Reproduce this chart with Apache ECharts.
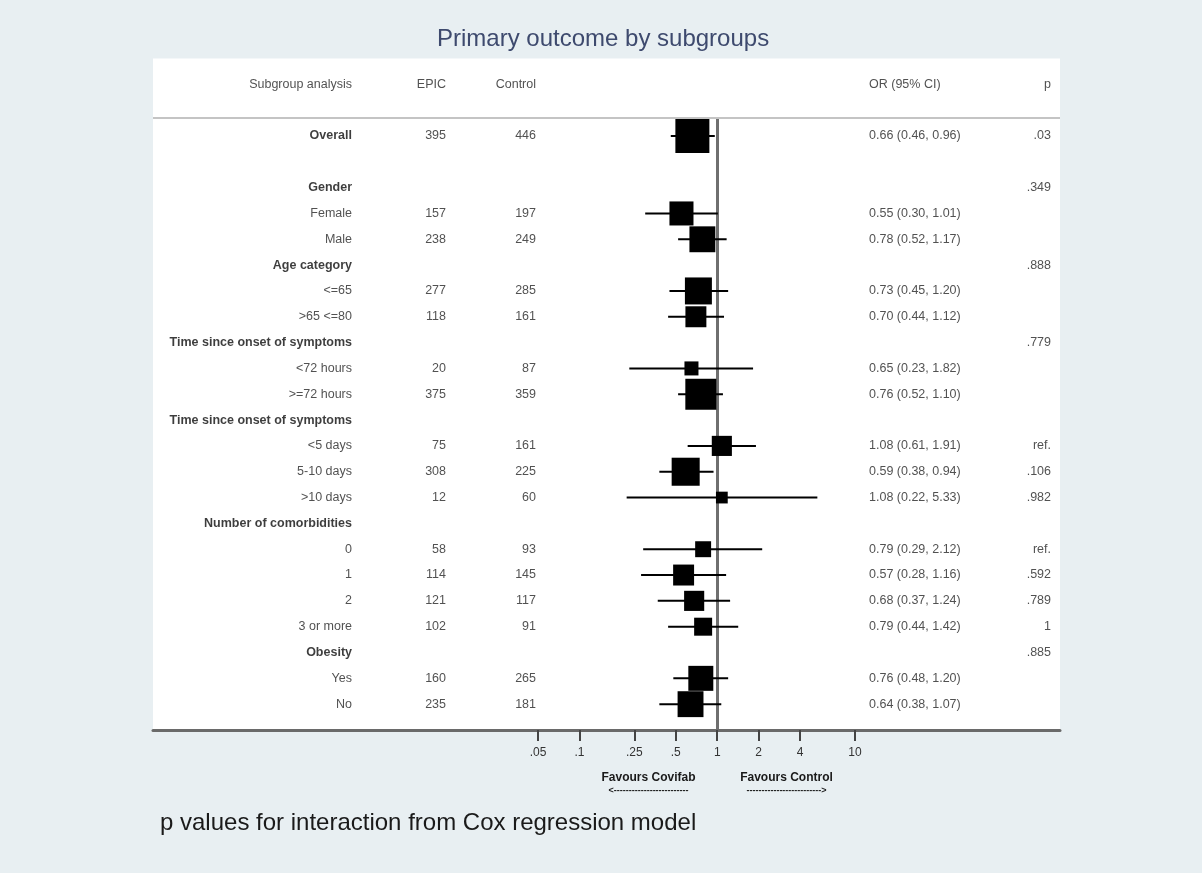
<!DOCTYPE html>
<html>
<head>
<meta charset="utf-8">
<script src="https://cdn.jsdelivr.net/npm/echarts@6/dist/echarts.min.js"></script>
<style>
html,body{margin:0;padding:0;background:#e8eff2;}
#chart{width:1202px;height:873px;}
</style>
</head>
<body>
<div id="chart"></div>
<script>
// ---------------- DATA ----------------
const subgroups = ['Overall', '', 'Gender', 'Female', 'Male', 'Age category', '<=65', '>65 <=80',
  'Time since onset of symptoms', '<72 hours', '>=72 hours', 'Time since onset of symptoms',
  '<5 days', '5-10 days', '>10 days', 'Number of comorbidities', '0', '1', '2', '3 or more',
  'Obesity', 'Yes', 'No'];
const isHeading = [true, false, true, false, false, true, false, false,
  true, false, false, true, false, false, false, true, false, false, false, false,
  true, false, false];
const epicN    = [395, null, null, 157, 238, null, 277, 118, null, 20, 375, null, 75, 308, 12, null, 58, 114, 121, 102, null, 160, 235];
const controlN = [446, null, null, 197, 249, null, 285, 161, null, 87, 359, null, 161, 225, 60, null, 93, 145, 117, 91, null, 265, 181];
const oddsRatio = [0.66, null, null, 0.55, 0.78, null, 0.73, 0.70, null, 0.65, 0.76, null, 1.08, 0.59, 1.08, null, 0.79, 0.57, 0.68, 0.79, null, 0.76, 0.64];
const ciLow     = [0.46, null, null, 0.30, 0.52, null, 0.45, 0.44, null, 0.23, 0.52, null, 0.61, 0.38, 0.22, null, 0.29, 0.28, 0.37, 0.44, null, 0.48, 0.38];
const ciHigh    = [0.96, null, null, 1.01, 1.17, null, 1.20, 1.12, null, 1.82, 1.10, null, 1.91, 0.94, 5.33, null, 2.12, 1.16, 1.24, 1.42, null, 1.20, 1.07];
const weights   = [100, null, null, 50, 58, null, 63, 38, null, 17, 83, null, 35, 68, 12, null, 22, 38, 35, 28, null, 54, 58];
const pValues   = ['.03', '', '.349', '', '', '.888', '', '', '.779', '', '', '', 'ref.', '.106', '.982', '', 'ref.', '.592', '.789', '1', '.885', '', ''];
const columnHeaders = ['Subgroup analysis', 'EPIC', 'Control', 'OR (95% CI)', 'p'];
const xTickValues = [0.05, 0.1, 0.25, 0.5, 1, 2, 4, 10];
const xTickLabels = ['.05', '.1', '.25', '.5', '1', '2', '4', '10'];
const titleText = 'Primary outcome by subgroups';
const footnoteText = 'p values for interaction from Cox regression model';
const favoursLeft = 'Favours Covifab';
const favoursRight = 'Favours Control';

// ---------------- LAYOUT ----------------
const FONT = '"Liberation Sans", Arial, Helvetica, sans-serif';
const panel = { left: 153, right: 1060, top: 58.5, bottom: 730 };
const forest = { left: 538, right: 855 };
const rowMin = -1, rowMax = 25, firstDataRow = 2, headerRow = 0, headerLineRow = 1.28;
const col = { label: 352, epic: 446, control: 536, or: 869, p: 1051 };
const TXT = '#262626', BOLD = '#0d0d0d';

const rowOf = i => i + firstDataRow;
function textItem(x, row, text, bold) {
  return { value: [x, row], name: text, label: bold ? { fontWeight: 'bold', color: BOLD } : {} };
}
function textSeries(items, pos) {
  return {
    type: 'scatter', xAxisIndex: 1, yAxisIndex: 1, symbolSize: 0, silent: true, z: 5,
    data: items,
    label: {
      show: true, position: pos, distance: 0, formatter: p => p.name,
      fontFamily: FONT, fontSize: 12.5, color: TXT
    }
  };
}

const labelItems = [textItem(col.label, headerRow, columnHeaders[0], false)];
const epicItems = [textItem(col.epic, headerRow, columnHeaders[1], false)];
const controlItems = [textItem(col.control, headerRow, columnHeaders[2], false)];
const orItems = [textItem(col.or, headerRow, columnHeaders[3], false)];
const pItems = [textItem(col.p, headerRow, columnHeaders[4], false)];
subgroups.forEach((s, i) => {
  if (s) labelItems.push(textItem(col.label, rowOf(i), s, isHeading[i]));
  if (epicN[i] != null) epicItems.push(textItem(col.epic, rowOf(i), String(epicN[i]), false));
  if (controlN[i] != null) controlItems.push(textItem(col.control, rowOf(i), String(controlN[i]), false));
  if (oddsRatio[i] != null) orItems.push(textItem(col.or, rowOf(i),
    oddsRatio[i].toFixed(2) + ' (' + ciLow[i].toFixed(2) + ', ' + ciHigh[i].toFixed(2) + ')', false));
  if (pValues[i]) pItems.push(textItem(col.p, rowOf(i), pValues[i], false));
});

const ciData = [], boxData = [];
subgroups.forEach((s, i) => {
  if (oddsRatio[i] == null) return;
  ciData.push([ciLow[i], ciHigh[i], rowOf(i)]);
  boxData.push([oddsRatio[i], rowOf(i), weights[i]]);
});

const chart = echarts.init(document.getElementById('chart'), null, { renderer: 'canvas' });
const gridH = panel.bottom - panel.top;
chart.setOption({
  animation: false,
  backgroundColor: '#e8eff2',
  title: [
    { text: titleText, left: 432, top: 22, textStyle: { fontFamily: FONT, fontSize: 24, fontWeight: 'normal', color: '#3e4a6e' } },
    { text: footnoteText, left: 155, top: 806, textStyle: { fontFamily: FONT, fontSize: 24, fontWeight: 'normal', color: '#1a1a1a' } }
  ],
  grid: [
    { left: forest.left, width: forest.right - forest.left, top: panel.top, height: gridH, z: 0 },
    { left: panel.left, width: panel.right - panel.left, top: panel.top, height: gridH, show: true, backgroundColor: '#ffffff', borderWidth: 0, z: 0 }
  ],
  xAxis: [
    {
      type: 'log', logBase: 10, gridIndex: 0, min: xTickValues[0], max: xTickValues[xTickValues.length - 1],
      position: 'bottom', z: 6,
      axisLine: { show: true, onZero: false, lineStyle: { color: '#6a6a6a', width: 3 } },
      splitLine: { show: false },
      axisTick: { show: true, inside: false, customValues: xTickValues, length: 11, lineStyle: { color: '#444', width: 2 } },
      axisLabel: {
        show: true, customValues: xTickValues, margin: 17,
        fontFamily: FONT, fontSize: 12, color: '#333',
        formatter: v => { const k = xTickValues.findIndex(t => Math.abs(t - v) < 1e-9); return k >= 0 ? xTickLabels[k] : ''; }
      }
    },
    {
      type: 'value', gridIndex: 1, min: panel.left, max: panel.right, position: 'bottom', z: 6,
      axisLine: { show: true, onZero: false, lineStyle: { color: '#6a6a6a', width: 3 } },
      axisTick: { show: false }, axisLabel: { show: false }, splitLine: { show: false }
    }
  ],
  yAxis: [
    { type: 'value', gridIndex: 0, inverse: true, min: rowMin, max: rowMax, show: false },
    { type: 'value', gridIndex: 1, inverse: true, min: rowMin, max: rowMax, show: false }
  ],
  graphic: [
    { type: 'text', x: 648.5, y: 778, z: 10, style: { text: favoursLeft, font: 'bold 12px ' + FONT, fill: '#1a1a1a', align: 'center', verticalAlign: 'middle' } },
    { type: 'text', x: 786.5, y: 778, z: 10, style: { text: favoursRight, font: 'bold 12px ' + FONT, fill: '#1a1a1a', align: 'center', verticalAlign: 'middle' } },
    { type: 'text', x: 648.5, y: 791, z: 10, style: { text: '<' + '-'.repeat(25), font: 'bold 9px ' + FONT, fill: '#1a1a1a', align: 'center', verticalAlign: 'middle' } },
    { type: 'text', x: 786.5, y: 791, z: 10, style: { text: '-'.repeat(25) + '>', font: 'bold 9px ' + FONT, fill: '#1a1a1a', align: 'center', verticalAlign: 'middle' } }
  ],
  series: [
    {
      type: 'custom', xAxisIndex: 0, yAxisIndex: 0, z: 3, silent: true, clip: false,
      data: ciData,
      renderItem: (params, api) => {
        const a = api.coord([api.value(0), api.value(2)]);
        const b = api.coord([api.value(1), api.value(2)]);
        return { type: 'line', shape: { x1: a[0], y1: a[1], x2: b[0], y2: b[1] }, style: { stroke: '#000', lineWidth: 2 } };
      },
      markLine: {
        silent: true, symbol: 'none', z: 2, label: { show: false },
        lineStyle: { color: '#6f6f6f', width: 3, type: 'solid' },
        data: [[{ coord: [1, headerLineRow] }, { coord: [1, rowMax] }]]
      }
    },
    {
      type: 'scatter', xAxisIndex: 0, yAxisIndex: 0, z: 4, silent: true, clip: false,
      symbol: 'rect',
      symbolSize: v => 34 * Math.sqrt(v[2] / 100),
      itemStyle: { color: '#000', opacity: 1 },
      data: boxData
    },
    {
      type: 'line', xAxisIndex: 1, yAxisIndex: 1, data: [], silent: true, z: 2,
      markLine: {
        silent: true, symbol: 'none', label: { show: false },
        lineStyle: { color: '#c4c4c4', width: 2, type: 'solid' },
        data: [[{ coord: [panel.left, headerLineRow] }, { coord: [panel.right, headerLineRow] }]]
      }
    },
    textSeries(labelItems, 'left'),
    textSeries(epicItems, 'left'),
    textSeries(controlItems, 'left'),
    textSeries(orItems, 'right'),
    textSeries(pItems, 'left')
  ]
});
</script>
</body>
</html>
